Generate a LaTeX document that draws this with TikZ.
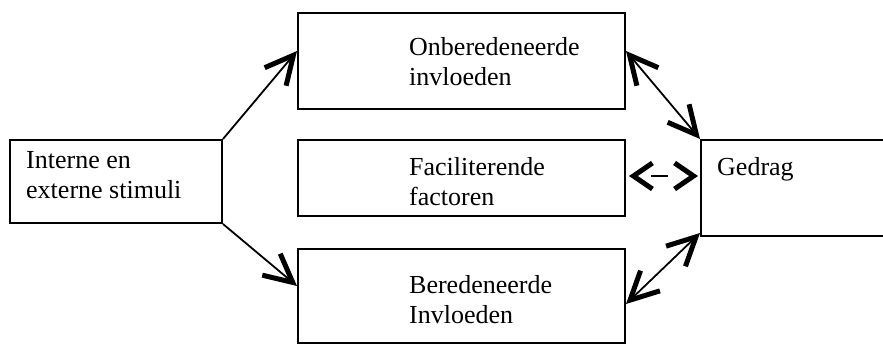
\documentclass[tikz,border=0pt]{standalone}
\usepackage{fontspec}
\setmainfont{Liberation Serif}
\usetikzlibrary{arrows.meta}
\begin{document}
\begin{tikzpicture}[x=1pt,y=-1pt,
  box/.style={draw=black,line width=2pt,rectangle,inner sep=0pt,anchor=north west},
  lbl/.style={inner sep=0pt,anchor=base west,align=left,font=\fontsize{26}{30}\selectfont},
  conn/.style={draw=black,line width=1.8pt}]
\useasboundingbox (0,0) rectangle (883,345);
\clip (0,0) rectangle (883,345);
% boxes
\node[box,minimum width=212pt,minimum height=83pt] (stim) at (9,139) {};
\node[box,minimum width=327pt,minimum height=96pt] (onb) at (297,12) {};
\node[box,minimum width=327pt,minimum height=76pt] (fac) at (297,139) {};
\node[box,minimum width=327pt,minimum height=94pt] (ber) at (297,248) {};
\node[box,minimum width=220pt,minimum height=96pt] (ged) at (700,139) {};
% labels (anchor = baseline of last line)
\node[lbl] (stimtxt) at (26,198) {Interne en\\externe stimuli};
\node[lbl] (onbtxt) at (409,85) {Onberedeneerde\\invloeden};
\node[lbl] (factxt) at (409,205) {Faciliterende\\factoren};
\node[lbl] (bertxt) at (409,323) {Beredeneerde\\Invloeden};
\node[lbl] (gedtxt) at (717,175) {Gedrag};
% connectors
\draw[conn,-{Straight Barb[length=28pt,width=28pt,line width=5pt]}] (stim.north east) -- ([yshift=10pt]onb.west);
\draw[conn,-{Straight Barb[length=28pt,width=28pt,line width=5pt]}] (stim.south east) -- ([yshift=10pt]ber.west);
\draw[conn,{Straight Barb[length=28pt,width=28pt,line width=5pt]}-{Straight Barb[length=28pt,width=28pt,line width=5pt]}] ([yshift=10pt]onb.east) -- (ged.north west);
\draw[conn,{Straight Barb[length=28pt,width=28pt,line width=5pt]}-{Straight Barb[length=28pt,width=28pt,line width=5pt]}] ([yshift=4pt]ged.south west) -- ([yshift=-8pt]ber.east);
\draw[conn,dash pattern=on 0pt off 15pt on 17pt off 200pt,{Straight Barb[length=19pt,width=26pt,line width=5pt]}-{Straight Barb[length=19pt,width=26pt,line width=5pt]}] ([xshift=3pt,yshift=2pt]fac.east) -- ([xshift=-2pt,yshift=12pt]ged.west);
\end{tikzpicture}
\end{document}
